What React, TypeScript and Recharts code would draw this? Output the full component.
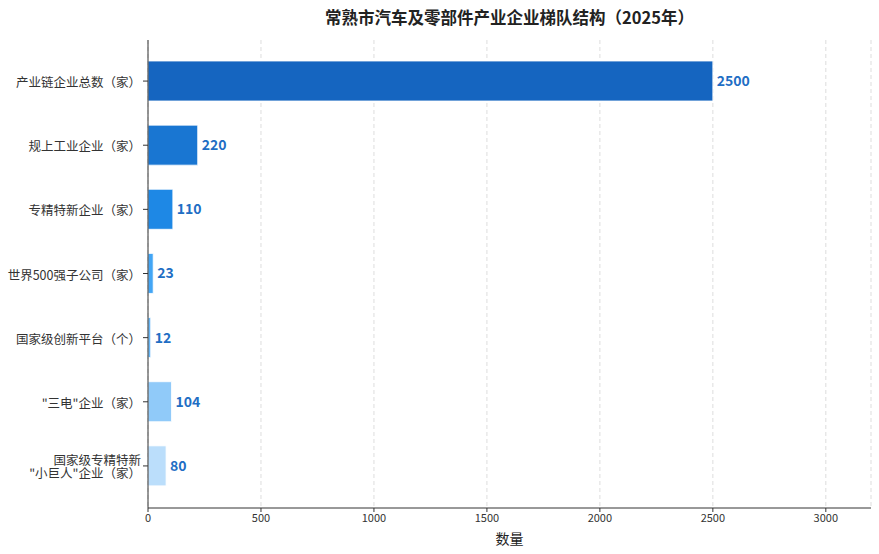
import { BarChart, Bar, XAxis, YAxis, CartesianGrid, Cell, LabelList } from 'recharts'

const categories = [
  '产业链企业总数（家）',
  '规上工业企业（家）',
  '专精特新企业（家）',
  '世界500强子公司（家）',
  '国家级创新平台（个）',
  '"三电"企业（家）',
  '国家级专精特新\n"小巨人"企业（家）',
]
const counts = [2500, 220, 110, 23, 12, 104, 80]
const barColors = ['#1565C0', '#1976D2', '#1E88E5', '#42A5F5', '#64B5F6', '#90CAF9', '#BBDEFB']
const xTicks = [0, 500, 1000, 1500, 2000, 2500, 3000]

const FONT = '"Noto Sans CJK SC", "Noto Sans", sans-serif'

const data = categories.map((name, i) => ({ name, value: counts[i] }))

// multi-line category labels, right-aligned against the tick
function CategoryTick(props: any) {
  const { x, y, payload } = props
  const lines: string[] = String(payload.value).split('\n')
  const lh = 13
  const y0 = y - ((lines.length - 1) * lh) / 2
  return (
    <text x={x} y={y0} textAnchor="end" dominantBaseline="central" fontSize={12.5} fill="#333" fontFamily={FONT}>
      {lines.map((l, i) => (
        <tspan key={i} x={x} y={y0 + i * lh}>{l}</tspan>
      ))}
    </text>
  )
}

export default function App() {
  return (
    <div style={{ position: 'absolute', left: 0, top: 0, width: 879, height: 554, background: '#fff', fontFamily: FONT }}>
      <div style={{ position: 'absolute', left: 148, width: 723, top: 5, textAlign: 'center', fontSize: 16.5, fontWeight: 700, color: '#222' }}>
        常熟市汽车及零部件产业企业梯队结构（2025年）
      </div>
      <BarChart
        width={879}
        height={554}
        data={data}
        layout="vertical"
        margin={{ top: 40, right: 8, left: 8, bottom: 0 }}
      >
        <CartesianGrid horizontal={false} strokeDasharray="4 3" stroke="#ddd" />
        <XAxis
          type="number"
          domain={[0, 3200]}
          ticks={xTicks}
          allowDataOverflow
          height={46}
          tick={{ fontSize: 11, fill: '#333', fontFamily: FONT }}
          tickSize={4}
          tickLine={{ stroke: '#333' }}
          axisLine={{ stroke: '#333' }}
          label={{ value: '数量', position: 'insideBottom', offset: 10, fontSize: 14, fill: '#222', fontFamily: FONT }}
        />
        <YAxis
          type="category"
          dataKey="name"
          width={140}
          padding={{ top: 9, bottom: 10 }}
          tick={<CategoryTick />}
          tickSize={5}
          tickLine={{ stroke: '#333' }}
          axisLine={{ stroke: '#333' }}
          interval={0}
        />
        <Bar dataKey="value" barSize={40} isAnimationActive={false} stroke="#fff" strokeWidth={0.8}>
          {data.map((d, i) => (
            <Cell key={d.name} fill={barColors[i]} />
          ))}
          <LabelList
            dataKey="value"
            position="right"
            offset={4}
            fill="#1f6ec4"
            fontSize={14}
            fontWeight={700}
            fontFamily={FONT}
          />
        </Bar>
      </BarChart>
    </div>
  )
}
